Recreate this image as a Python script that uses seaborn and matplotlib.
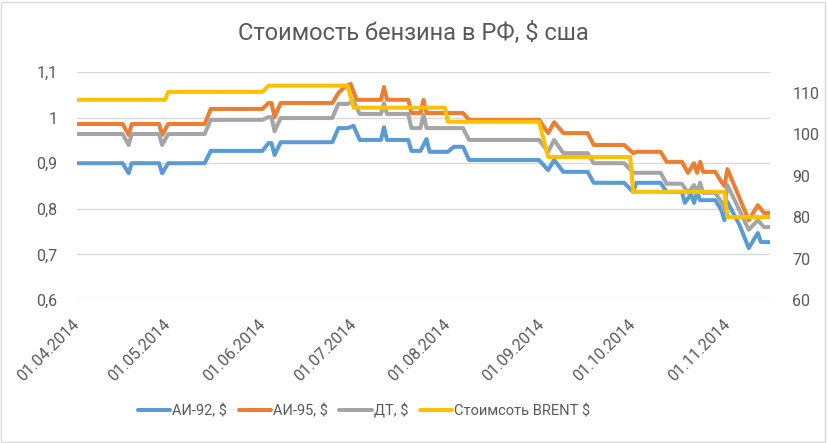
import matplotlib
matplotlib.use("Agg")
import matplotlib.pyplot as plt
import matplotlib.dates as mdates
from matplotlib.lines import Line2D
from matplotlib.patches import Rectangle
from matplotlib.ticker import FixedLocator, FuncFormatter
import seaborn as sns
import pandas as pd

# ---------------- data ----------------
dates_92 = ["2014-04-01", "2014-04-16", "2014-04-18", "2014-04-19", "2014-04-28", "2014-04-29",
            "2014-05-01", "2014-05-13", "2014-05-15", "2014-06-01", "2014-06-03", "2014-06-04",
            "2014-06-05", "2014-06-07", "2014-06-24", "2014-06-26", "2014-06-29", "2014-07-01",
            "2014-07-03", "2014-07-10", "2014-07-11", "2014-07-12", "2014-07-19", "2014-07-20",
            "2014-07-23", "2014-07-25", "2014-07-26", "2014-08-01", "2014-08-03", "2014-08-06",
            "2014-08-08", "2014-08-31", "2014-09-03", "2014-09-05", "2014-09-08", "2014-09-16",
            "2014-09-18", "2014-09-28", "2014-10-01", "2014-10-02", "2014-10-10", "2014-10-12",
            "2014-10-17", "2014-10-18", "2014-10-20", "2014-10-21", "2014-10-22", "2014-10-23",
            "2014-10-28", "2014-10-30", "2014-10-31", "2014-11-01", "2014-11-05", "2014-11-08",
            "2014-11-11", "2014-11-12", "2014-11-15"]
ai92 = [0.900, 0.900, 0.878, 0.900, 0.900, 0.878,
        0.900, 0.900, 0.927, 0.927, 0.944, 0.944,
        0.918, 0.946, 0.946, 0.977, 0.977, 0.982,
        0.951, 0.951, 0.979, 0.951, 0.951, 0.927,
        0.927, 0.953, 0.925, 0.925, 0.936, 0.936,
        0.907, 0.907, 0.885, 0.907, 0.881, 0.881,
        0.857, 0.857, 0.837, 0.857, 0.857, 0.837,
        0.837, 0.813, 0.832, 0.813, 0.837, 0.819,
        0.819, 0.797, 0.775, 0.815, 0.764, 0.714,
        0.747, 0.727, 0.727]

dates_95 = ["2014-04-01", "2014-04-16", "2014-04-18", "2014-04-19", "2014-04-28", "2014-04-29",
            "2014-05-01", "2014-05-13", "2014-05-15", "2014-06-01", "2014-06-03", "2014-06-04",
            "2014-06-05", "2014-06-07", "2014-06-24", "2014-06-26", "2014-06-28", "2014-06-30",
            "2014-07-02", "2014-07-10", "2014-07-11", "2014-07-12", "2014-07-19", "2014-07-20",
            "2014-07-23", "2014-07-24", "2014-07-25", "2014-08-06", "2014-08-08", "2014-08-31",
            "2014-09-03", "2014-09-05", "2014-09-08", "2014-09-16", "2014-09-18", "2014-09-28",
            "2014-10-01", "2014-10-02", "2014-10-10", "2014-10-12", "2014-10-17", "2014-10-19",
            "2014-10-21", "2014-10-22", "2014-10-23", "2014-10-24", "2014-10-28", "2014-10-30",
            "2014-10-31", "2014-11-01", "2014-11-08", "2014-11-11", "2014-11-13", "2014-11-15"]
ai95 = [0.986, 0.986, 0.962, 0.986, 0.986, 0.962,
        0.986, 0.986, 1.019, 1.019, 1.032, 1.032,
        1.001, 1.032, 1.032, 1.054, 1.067, 1.074,
        1.039, 1.039, 1.067, 1.039, 1.039, 1.010,
        1.010, 1.039, 1.010, 1.010, 0.995, 0.995,
        0.966, 0.990, 0.966, 0.966, 0.940, 0.940,
        0.922, 0.925, 0.925, 0.903, 0.903, 0.879,
        0.900, 0.879, 0.903, 0.881, 0.881, 0.859,
        0.850, 0.887, 0.775, 0.808, 0.791, 0.791]

dates_dt = ["2014-04-01", "2014-04-16", "2014-04-18", "2014-04-19", "2014-04-28", "2014-04-29",
            "2014-05-01", "2014-05-13", "2014-05-15", "2014-06-01", "2014-06-03", "2014-06-04",
            "2014-06-05", "2014-06-07", "2014-06-24", "2014-06-26", "2014-06-29", "2014-07-01",
            "2014-07-03", "2014-07-10", "2014-07-11", "2014-07-12", "2014-07-19", "2014-07-20",
            "2014-07-23", "2014-07-24", "2014-07-25", "2014-08-06", "2014-08-08", "2014-08-31",
            "2014-09-03", "2014-09-05", "2014-09-08", "2014-09-16", "2014-09-18", "2014-09-28",
            "2014-10-01", "2014-10-10", "2014-10-12", "2014-10-17", "2014-10-19", "2014-10-21",
            "2014-10-22", "2014-10-23", "2014-10-24", "2014-10-28", "2014-10-30", "2014-10-31",
            "2014-11-01", "2014-11-08", "2014-11-11", "2014-11-13", "2014-11-15"]
dt = [0.964, 0.964, 0.940, 0.964, 0.964, 0.940,
      0.964, 0.964, 0.995, 0.995, 1.001, 1.001,
      0.970, 0.999, 0.999, 1.030, 1.030, 1.036,
      1.008, 1.008, 1.032, 1.008, 1.008, 0.977,
      0.977, 1.006, 0.977, 0.977, 0.951, 0.951,
      0.925, 0.951, 0.922, 0.922, 0.900, 0.900,
      0.879, 0.879, 0.855, 0.855, 0.835, 0.852,
      0.835, 0.857, 0.835, 0.835, 0.815, 0.797,
      0.852, 0.754, 0.775, 0.760, 0.760]

dates_brent = ["2014-04-01", "2014-04-30", "2014-05-01", "2014-06-01", "2014-06-03", "2014-06-29",
               "2014-07-01", "2014-07-31", "2014-08-01", "2014-08-31", "2014-09-03", "2014-09-30",
               "2014-10-01", "2014-10-31", "2014-11-01", "2014-11-15"]
brent = [108.3, 108.3, 110.2, 110.2, 111.7, 111.7,
         106.4, 106.4, 103.0, 103.0, 94.5, 94.5,
         86.1, 86.1, 80.0, 80.0]

labels = ["АИ-92, $", "АИ-95, $", "ДТ, $", "Стоимсоть BRENT $"]
colors = ["#5B9BD5", "#ED7D31", "#A5A5A5", "#FFC000"]
title = "Стоимость бензина в РФ, $ сша"
left_ticks = [0.6, 0.7, 0.8, 0.9, 1.0, 1.1]
right_ticks = [60, 70, 80, 90, 100, 110]

# ---------------- plot ----------------
sns.set_theme(style="white")
plt.rcParams["font.family"] = ["Roboto", "DejaVu Sans"]
txt = "#595959"

W, H = 827, 443
fig = plt.figure(figsize=(W / 100, H / 100), dpi=100)
fig.patch.set_facecolor("white")
fig.add_artist(Rectangle((1 / W, 1 / H), 1 - 3 / W, 1 - 3 / H, transform=fig.transFigure,
                         fill=False, edgecolor="#d9d9d9", lw=1))

x0, x1, ytop, ybot = 77, 770, 72, 300
ax = fig.add_axes([x0 / W, 1 - ybot / H, (x1 - x0) / W, (ybot - ytop) / H])
ax2 = ax.twinx()

series = [(dates_92, ai92), (dates_95, ai95), (dates_dt, dt)]
for (d, v), c in zip(series, colors[:3]):
    sns.lineplot(x=pd.to_datetime(d), y=v, ax=ax, color=c, lw=2.9, legend=False)
sns.lineplot(x=pd.to_datetime(dates_brent), y=brent, ax=ax2, color=colors[3], lw=2.9, legend=False)

ax.set_xlim(pd.Timestamp("2014-04-01"), pd.Timestamp("2014-11-15"))
ax.set_ylim(0.6, 1.1)
ax2.set_ylim(60, 115)
ax.yaxis.set_major_locator(FixedLocator(left_ticks))
ax.yaxis.set_major_formatter(FuncFormatter(lambda v, p: f"{v:.1f}".replace(".", ",").replace(",0", "")))
ax2.yaxis.set_major_locator(FixedLocator(right_ticks))
ax.grid(axis="y", color="#d9d9d9", lw=1)
ax.grid(axis="x", visible=False)
ax2.grid(False)

for a in (ax, ax2):
    for s in a.spines.values():
        s.set_visible(False)
    a.set_xlabel("")
    a.set_ylabel("")
    a.tick_params(length=0, colors=txt, labelsize=11.5)
ax.tick_params(axis="y", pad=14)
ax2.tick_params(axis="y", pad=16)

ax.xaxis.set_major_locator(mdates.MonthLocator(bymonthday=1))
ax.xaxis.set_major_formatter(mdates.DateFormatter("%d.%m.%Y"))
for lab in ax.get_xticklabels():
    lab.set_rotation(45)
    lab.set_ha("right")
    lab.set_va("center")
    lab.set_rotation_mode("anchor")
ax.tick_params(axis="x", pad=16)

fig.text(0.5, 1 - 33 / H, title, ha="center", va="center", fontsize=17, color=txt)

handles = [Line2D([], [], color=c, lw=2.9) for c in colors]
fig.legend(handles, labels, loc="center", bbox_to_anchor=(364 / W, 1 - 411 / H), ncol=4,
           frameon=False, prop={"family": ["Roboto", "DejaVu Sans"], "size": 10.5},
           handlelength=2.2, handletextpad=0.15, columnspacing=0.8, labelcolor=txt)

fig.savefig("out.png", dpi=100, facecolor="white")
